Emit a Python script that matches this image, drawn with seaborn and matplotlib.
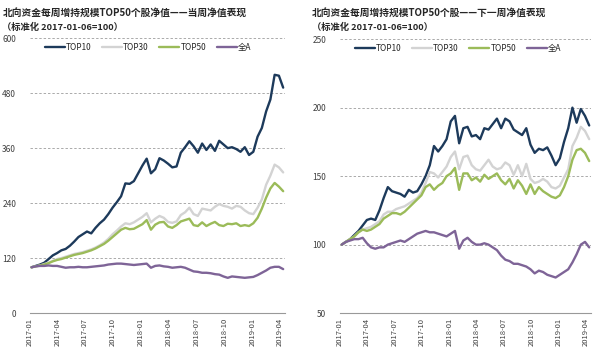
import matplotlib
matplotlib.use("Agg")
import matplotlib.pyplot as plt
import matplotlib.dates as mdates
import seaborn as sns
import pandas as pd

# 双周采样净值（标准化 2017-01-06=100）
dates = pd.date_range("2017-01-06", periods=60, freq="14D")
series_names = ["TOP10", "TOP30", "TOP50", "全A"]

# 当周净值表现
cur_top10 = [100, 103, 106, 110, 118, 126, 131, 137, 140, 147, 156, 166, 172, 178, 174, 186, 196, 204, 216, 230,
             242, 255, 283, 282, 288, 305, 322, 337, 305, 314, 338, 333, 326, 318, 320, 350, 362, 375, 364, 350,
             370, 356, 368, 354, 376, 368, 360, 362, 358, 352, 362, 345, 352, 385, 404, 440, 466, 520, 518, 492]
cur_top30 = [100, 102, 104, 107, 110, 114, 118, 120, 123, 126, 129, 131, 133, 136, 139, 143, 148, 154, 162, 172,
             180, 189, 196, 194, 198, 204, 210, 218, 198, 206, 212, 208, 199, 197, 200, 214, 220, 230, 216, 212,
             228, 226, 224, 232, 238, 234, 232, 228, 234, 232, 224, 218, 216, 230, 248, 280, 300, 324, 318, 307]
cur_top50 = [100, 102, 104, 106, 109, 113, 116, 118, 121, 124, 127, 129, 131, 134, 137, 141, 146, 151, 158, 166,
             174, 182, 186, 183, 184, 189, 194, 203, 182, 193, 198, 199, 189, 186, 192, 200, 203, 206, 192, 190,
             198, 190, 195, 199, 192, 190, 195, 194, 196, 190, 192, 190, 196, 208, 228, 252, 272, 284, 276, 266]
cur_all = [100, 102, 103, 103, 104, 103, 103, 101, 99, 100, 100, 101, 100, 100, 101, 102, 103, 104, 106, 107,
           108, 108, 107, 106, 105, 106, 107, 108, 99, 103, 104, 102, 101, 99, 100, 101, 99, 95, 91, 90,
           88, 88, 87, 85, 84, 80, 77, 80, 79, 78, 77, 78, 79, 83, 88, 93, 99, 101, 101, 96]

# 下一周净值表现
nxt_top10 = [100, 102, 104, 107, 110, 114, 118, 119, 118, 125, 134, 142, 139, 138, 137, 135, 140, 138, 139, 144,
             150, 158, 172, 168, 172, 177, 190, 194, 174, 185, 186, 179, 180, 177, 185, 184, 188, 192, 185, 192,
             190, 184, 182, 180, 185, 173, 167, 170, 169, 171, 165, 158, 163, 175, 185, 200, 189, 199, 194, 187]
nxt_top30 = [100, 102, 104, 106, 109, 111, 112, 113, 115, 117, 122, 124, 124, 126, 127, 128, 130, 132, 134, 138,
             145, 153, 152, 149, 153, 157, 164, 168, 155, 164, 165, 158, 155, 154, 158, 162, 157, 155, 156, 160,
             158, 151, 158, 150, 159, 148, 145, 146, 148, 146, 142, 141, 143, 149, 155, 172, 178, 186, 183, 177]
nxt_top50 = [100, 102, 104, 106, 109, 111, 110, 111, 113, 115, 119, 121, 123, 123, 122, 124, 127, 130, 133, 136,
             142, 144, 140, 143, 145, 150, 152, 156, 140, 152, 152, 147, 149, 146, 151, 148, 150, 152, 147, 144,
             148, 141, 147, 143, 137, 144, 137, 142, 139, 137, 135, 134, 136, 142, 150, 162, 169, 170, 167, 161]
nxt_all = [100, 102, 103, 104, 104, 105, 101, 98, 97, 98, 98, 100, 101, 102, 103, 102, 104, 106, 108, 109,
           110, 109, 109, 108, 107, 106, 108, 110, 97, 103, 105, 102, 100, 100, 101, 100, 98, 96, 92, 89,
           88, 86, 86, 85, 84, 82, 79, 81, 80, 78, 77, 76, 78, 80, 82, 87, 93, 100, 102, 98]

titles = ["北向资金每周增持规模TOP50个股净值——当周净值表现", "北向资金每周增持规模TOP50个股——下一周净值表现"]
subtitle = "（标准化 2017-01-06=100）"
colors = ["#1d3a5b", "#d3d3d3", "#9bbb59", "#7e6497"]

sns.set_style("white")
plt.rcParams["font.family"] = ["Noto Sans CJK SC", "DejaVu Sans"]


def long_df(values):
    parts = []
    for name, v in zip(series_names, values):
        parts.append(pd.DataFrame({"date": dates, "value": v, "series": name}))
    return pd.concat(parts, ignore_index=True)


fig = plt.figure(figsize=(6, 3.53), dpi=100)
ax_l = fig.add_axes([0.05, 0.113, 0.425, 0.779])
ax_r = fig.add_axes([0.567, 0.113, 0.418, 0.776])

panels = [
    (ax_l, long_df([cur_top10, cur_top30, cur_top50, cur_all]), (0, 600), [0, 120, 240, 360, 480, 600]),
    (ax_r, long_df([nxt_top10, nxt_top30, nxt_top50, nxt_all]), (50, 250), [50, 100, 150, 200, 250]),
]

for ax, df, ylim, yticks in panels:
    sns.lineplot(data=df, x="date", y="value", hue="series", palette=colors, linewidth=1.7, ax=ax)
    ax.set_ylim(*ylim)
    ax.set_yticks(yticks)
    ax.set_xlim(pd.Timestamp("2017-01-01"), pd.Timestamp("2019-04-18"))
    ax.xaxis.set_major_locator(mdates.MonthLocator(bymonth=[1, 4, 7, 10]))
    ax.xaxis.set_major_formatter(mdates.DateFormatter("%Y-%m"))
    ax.tick_params(axis="x", rotation=90, labelsize=5.5, colors="#999999", length=2, width=0.6,
                   direction="out", pad=1.5)
    for lab in ax.get_xticklabels():
        lab.set_color("#404040")
    ax.tick_params(axis="y", labelsize=6, length=0, pad=10, labelcolor="#404040")
    ax.grid(axis="y", linestyle=(0, (2.5, 2)), color="#aaaaaa", linewidth=0.7)
    for s in ["top", "right", "left"]:
        ax.spines[s].set_visible(False)
    ax.spines["bottom"].set_color("#999999")
    ax.spines["bottom"].set_linewidth(0.8)
    ax.set_xlabel("")
    ax.set_ylabel("")
    leg = ax.legend(loc="upper left", bbox_to_anchor=(0.045, 0.995), ncol=4, frameon=False,
                    fontsize=6, handlelength=2.4, handletextpad=0.1, columnspacing=1.3,
                    borderaxespad=0)
    for line in leg.get_lines():
        line.set_linewidth(1.7)

fig.text(0.004, 0.965, titles[0], fontsize=7, fontweight="bold", ha="left", va="center")
fig.text(0.004, 0.922, subtitle, fontsize=6.7, fontweight="bold", ha="left", va="center")
fig.text(0.52, 0.965, titles[1], fontsize=7, fontweight="bold", ha="left", va="center")
fig.text(0.52, 0.922, subtitle, fontsize=6.7, fontweight="bold", ha="left", va="center")

plt.savefig("out.png", dpi=100)
plt.close()
